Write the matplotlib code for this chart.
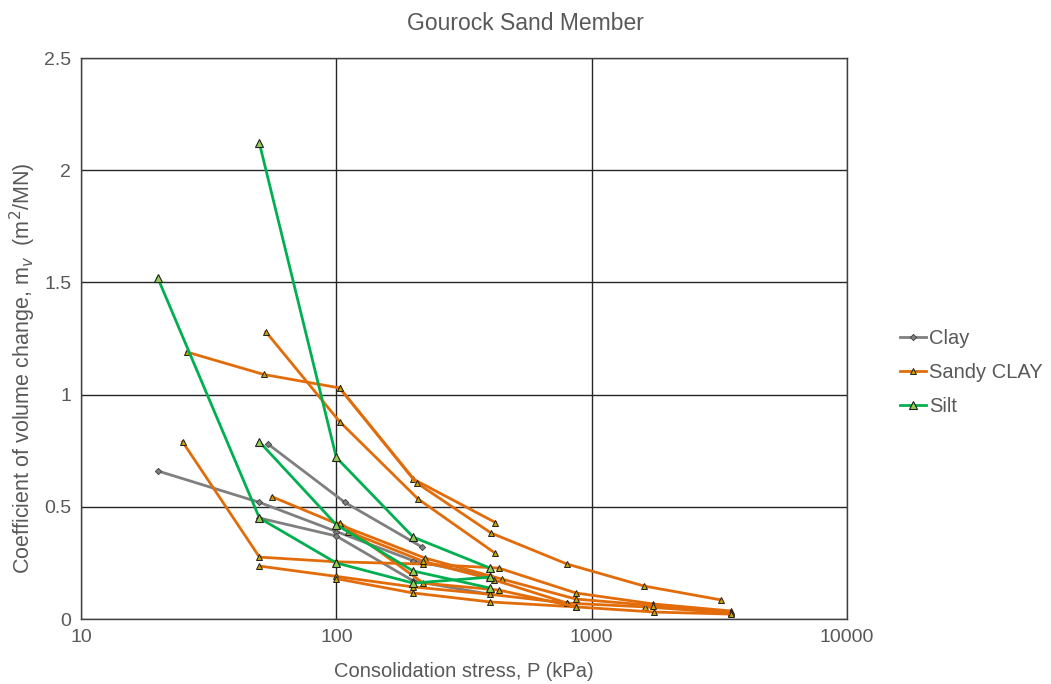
import numpy as np
import matplotlib.pyplot as plt
from matplotlib.ticker import FixedLocator, FixedFormatter, NullLocator

plt.rcParams['font.family'] = ['Liberation Sans', 'DejaVu Sans']

# --- data (P in kPa, mv in m2/MN) ---
clay_p = [
    [20, 50, 100, 200, 400],
    [54, 108, 217],
    [50, 100, 200, 400],
]
clay_mv = [
    [0.66, 0.52, 0.39, 0.26, 0.19],
    [0.78, 0.52, 0.32],
    [0.45, 0.37, 0.17, 0.11],
]

sandy_p = [
    [26, 52, 103, 200, 420],
    [103, 207, 404, 801, 1604, 3213],
    [53, 103, 209, 418],
    [25, 50, 100, 219, 433, 867, 1745, 3500],
    [50, 100, 200, 401, 801, 1620, 3500],
    [56, 103, 222, 445, 867, 1745, 3500],
    [100, 200, 401, 867, 1760, 3500],
    [111, 218, 415, 801],
    [103, 219, 433, 867],
]
sandy_mv = [
    [1.19, 1.09, 1.03, 0.624, 0.43],
    [1.03, 0.606, 0.383, 0.245, 0.147, 0.085],
    [1.28, 0.88, 0.535, 0.294],
    [0.79, 0.276, 0.255, 0.245, 0.227, 0.116, 0.067, 0.036],
    [0.236, 0.19, 0.143, 0.11, 0.071, 0.054, 0.027],
    [0.545, 0.42, 0.272, 0.178, 0.089, 0.06, 0.03],
    [0.18, 0.116, 0.076, 0.054, 0.031, 0.022],
    [0.39, 0.258, 0.174, 0.071],
    [0.43, 0.16, 0.129, 0.054],
]

silt_p = [
    [20, 50, 100, 200, 400],
    [50, 100, 200, 400],
    [50, 100, 200, 400],
]
silt_mv = [
    [1.52, 0.45, 0.25, 0.16, 0.187],
    [2.12, 0.72, 0.365, 0.227],
    [0.79, 0.42, 0.214, 0.138],
]

grey = '#7f7f7f'
orange = '#E36C0A'
green = '#00B050'
txt = '#595959'

fig = plt.figure(figsize=(10.51, 6.84), dpi=100)
ax = fig.add_axes([0.077, 0.095, 0.729, 0.820])

for i, (p, m) in enumerate(zip(clay_p, clay_mv)):
    ax.plot(p, m, color=grey, lw=2, marker='D', ms=3.2, mfc='#7f7f7f',
            mec='#404040', mew=0.6, label='Clay' if i == 0 else None, zorder=3)
for i, (p, m) in enumerate(zip(sandy_p, sandy_mv)):
    ax.plot(p, m, color=orange, lw=2, marker='^', ms=4.5, mfc='#C9A000',
            mec='#202020', mew=0.7, label='Sandy CLAY' if i == 0 else None, zorder=3)
for i, (p, m) in enumerate(zip(silt_p, silt_mv)):
    ax.plot(p, m, color=green, lw=2, marker='^', ms=6, mfc='#92D050',
            mec='#202020', mew=0.8, label='Silt' if i == 0 else None, zorder=4)

ax.set_xscale('log')
ax.set_xlim(10, 10000)
ax.set_ylim(0, 2.5)
ax.xaxis.set_major_locator(FixedLocator([10, 100, 1000, 10000]))
ax.xaxis.set_major_formatter(FixedFormatter(['10', '100', '1000', '10000']))
ax.xaxis.set_minor_locator(NullLocator())
ax.set_yticks([0, 0.5, 1, 1.5, 2, 2.5])
ax.set_yticklabels(['0', '0.5', '1', '1.5', '2', '2.5'])
ax.tick_params(length=0, labelsize=14, labelcolor=txt, pad=7)
ax.grid(True, color='#262626', lw=1.0, zorder=1)
for s in ax.spines.values():
    s.set_color('#404040')
    s.set_linewidth(1.0)

fig.text(0.5, 1 - 23 / 684, 'Gourock Sand Member', fontsize=16.5, color=txt,
         ha='center', va='center')
ax.set_xlabel('Consolidation stress, P (kPa)', fontsize=14.5, color=txt, labelpad=12)
ax.set_ylabel(r'Coefficient of volume change, m$_v$  (m$^2$/MN)', fontsize=15.5,
              color=txt)
ax.yaxis.set_label_coords(-0.056, 0.447)

leg = ax.legend(loc='center left', bbox_to_anchor=(1.069, 0.44), frameon=False,
                fontsize=14.5, handlelength=1.3, handletextpad=0.15,
                labelspacing=0.75, borderpad=0, borderaxespad=0)
for t in leg.get_texts():
    t.set_color(txt)

fig.savefig('out.png', dpi=100)
